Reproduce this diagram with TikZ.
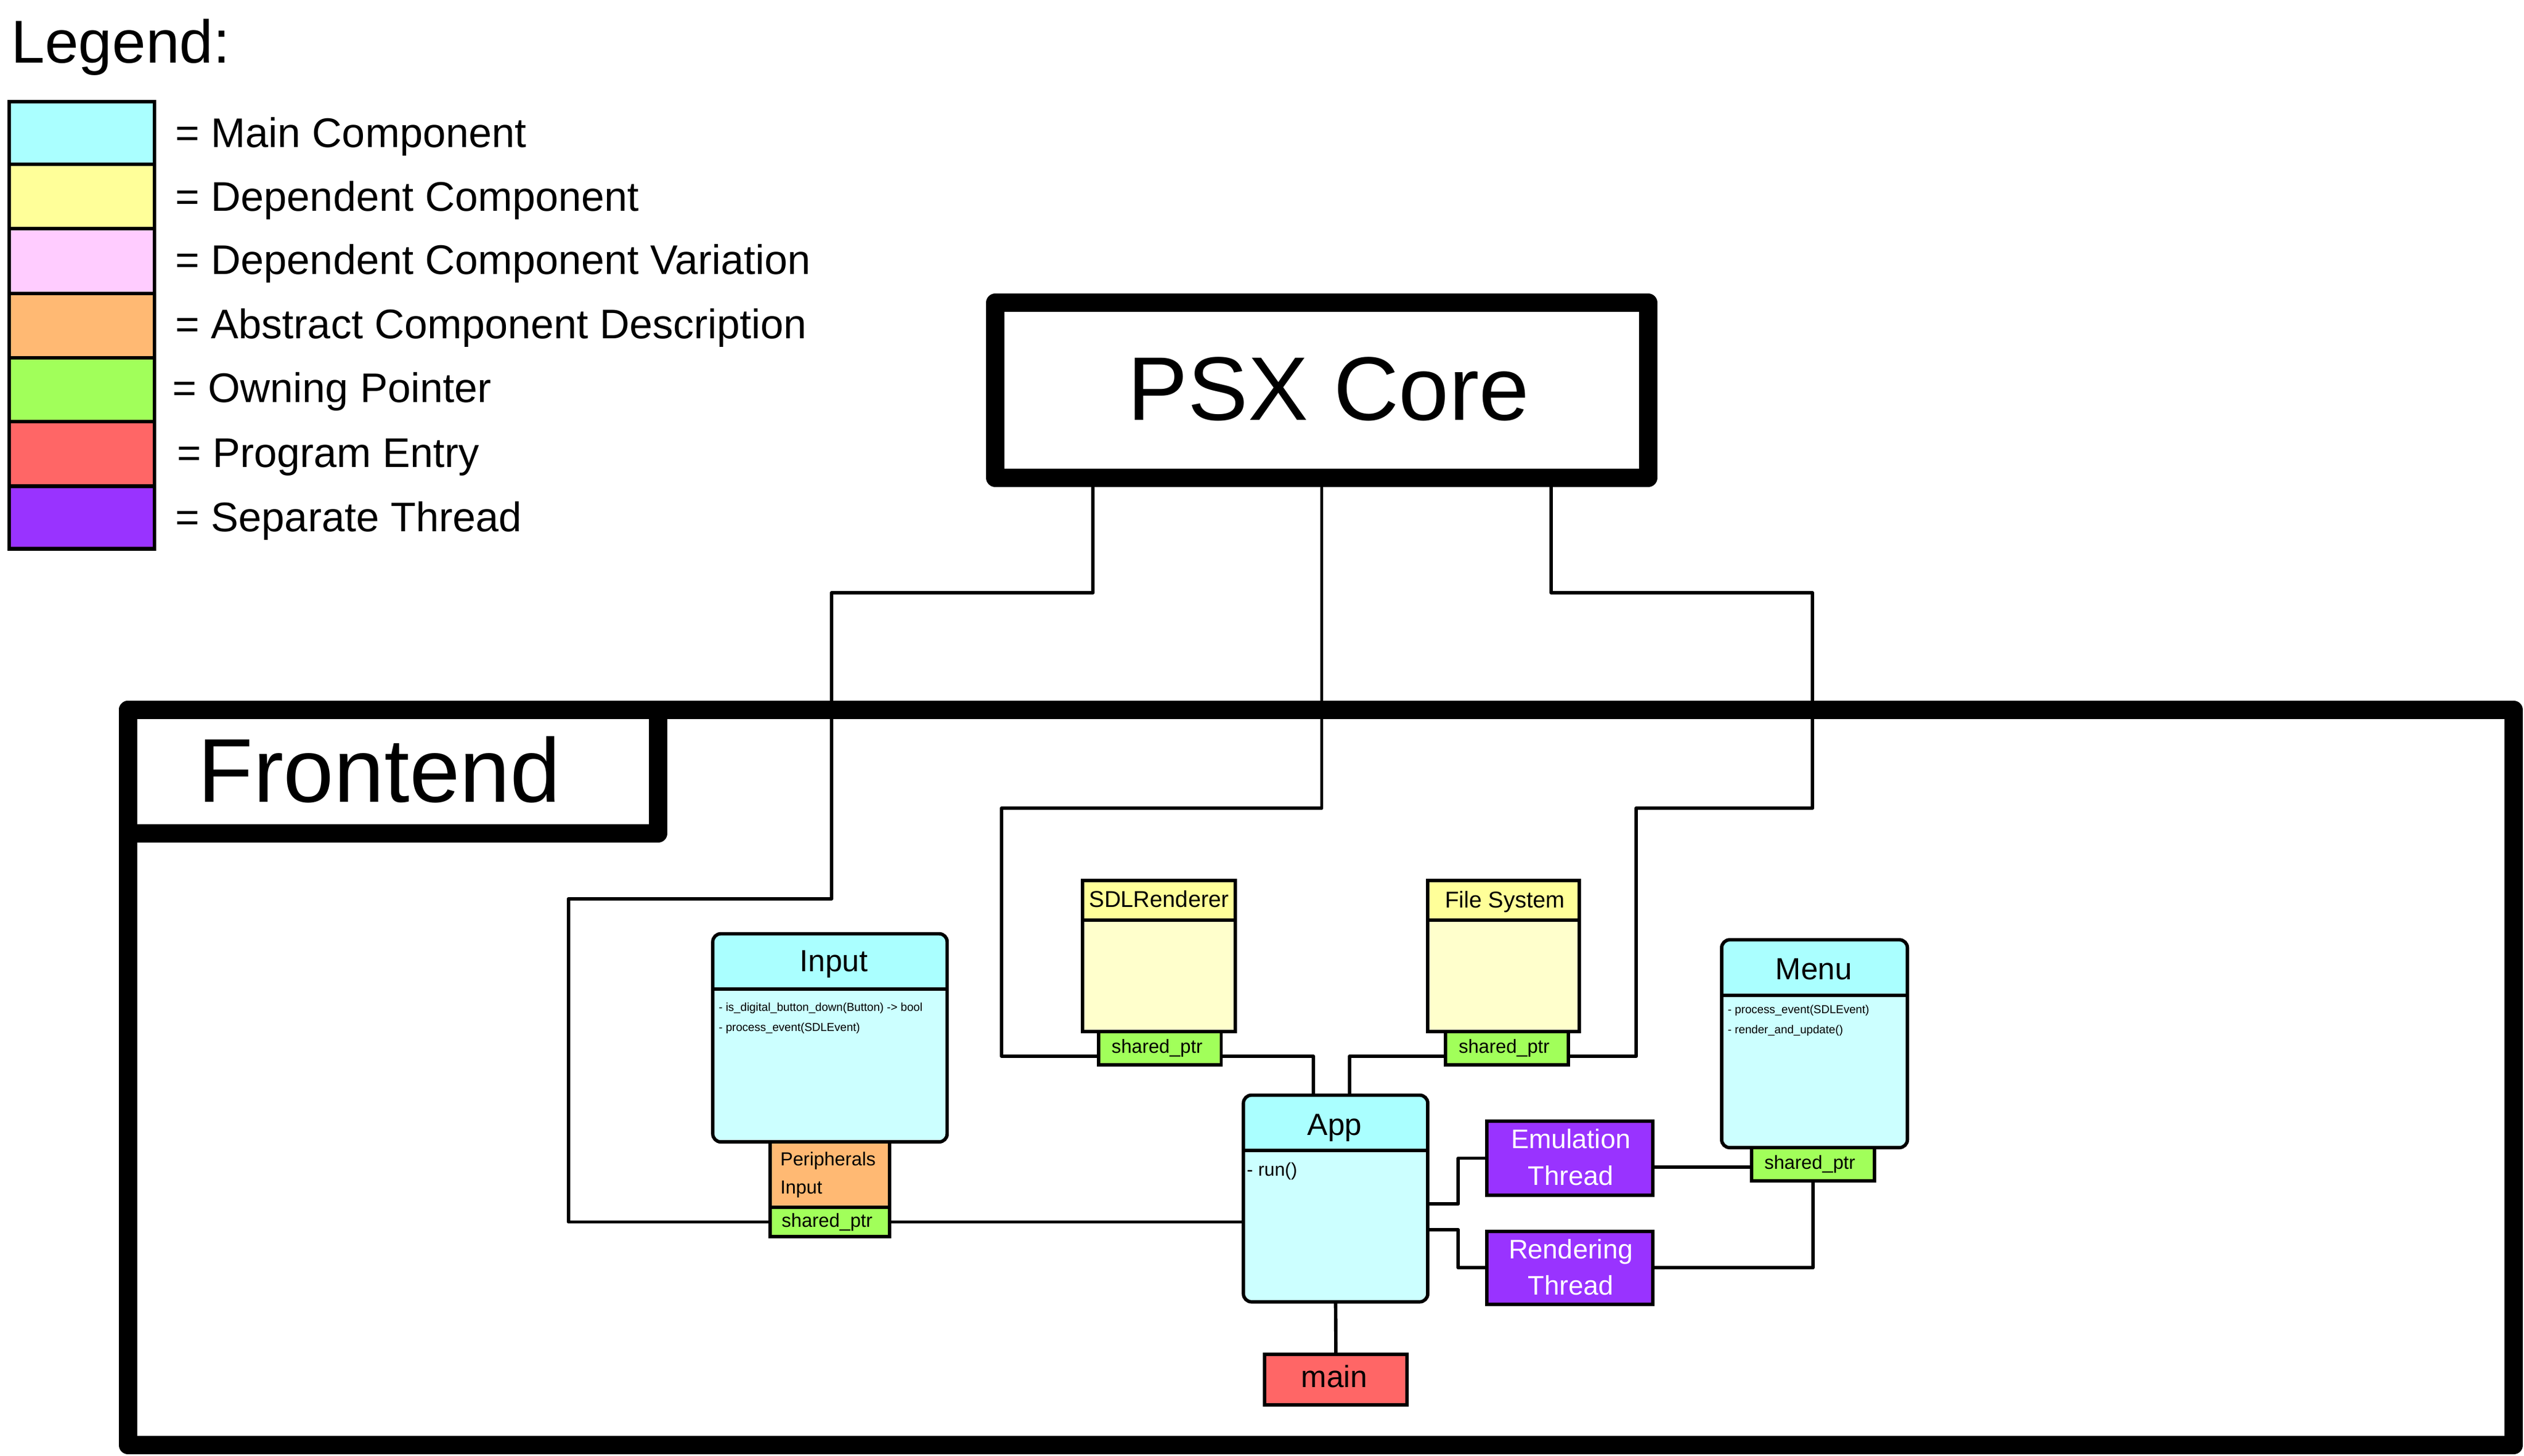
\documentclass[tikz,border=0pt]{standalone}
\usepackage{fontspec}
\setmainfont{Liberation Sans}
\usetikzlibrary{calc}
\definecolor{cyanhead}{HTML}{AAFFFF}
\definecolor{cyanbody}{HTML}{CCFFFF}
\definecolor{yellowhead}{HTML}{FFFF99}
\definecolor{yellowbody}{HTML}{FFFFCC}
\definecolor{pinkc}{HTML}{FFCCFF}
\definecolor{orangec}{HTML}{FFB973}
\definecolor{greenc}{HTML}{A1FF5A}
\definecolor{redc}{HTML}{FF6666}
\definecolor{purplec}{HTML}{9933FF}
\newcommand\myfs[1]{\fontsize{#1}{#1}\selectfont}
\begin{document}
\begin{tikzpicture}[x=1pt,y=-1pt,
  conn/.style={line width=2.1pt, line join=round},
  bigbox/.style={draw, fill=white, line width=11.4pt, line join=round, inner sep=0pt, outer sep=0pt},
  swatch/.style={draw, line width=2.2pt, inner sep=0pt, outer sep=0pt, minimum width=90.2pt},
  pbox/.style={draw, line width=2.1pt, inner sep=0pt, outer sep=0pt},
  cbox/.style={draw, line width=2.1pt, rounded corners=5pt, fill=cyanbody, inner sep=0pt, outer sep=0pt,
    path picture={
      \fill[cyanhead, sharp corners] (path picture bounding box.north west) rectangle ([yshift=-34.5pt]path picture bounding box.north east);
      \draw[line width=2.1pt, sharp corners] ([yshift=-34.5pt]path picture bounding box.north west) -- ([yshift=-34.5pt]path picture bounding box.north east);
    }},
  ybox/.style={draw, line width=2.1pt, fill=yellowbody, inner sep=0pt, outer sep=0pt,
    path picture={
      \fill[yellowhead] (path picture bounding box.north west) rectangle ([yshift=-24.65pt]path picture bounding box.north east);
      \draw[line width=2.1pt] ([yshift=-24.65pt]path picture bounding box.north west) -- ([yshift=-24.65pt]path picture bounding box.north east);
    }},
  txt/.style={inner sep=0pt, outer sep=0pt},
]
\useasboundingbox (0,0) rectangle (1568,904.4);
\fill[white] (0,0) rectangle (1568,904.4);

% ---------- Legend ----------
\node[txt, anchor=base west] (legendtitle) at (7.0,38.9) {\myfs{37.6}Legend:};
\node[swatch, fill=cyanhead,   minimum height=38.9pt] (sw1) at (50.8,82.55) {};
\node[swatch, fill=yellowhead, minimum height=40pt]   (sw2) at (50.8,122) {};
\node[swatch, fill=pinkc,      minimum height=40.2pt] (sw3) at (50.8,162.1) {};
\node[swatch, fill=orangec,    minimum height=40.1pt] (sw4) at (50.8,202.25) {};
\node[swatch, fill=greenc,     minimum height=39.7pt] (sw5) at (50.8,242.15) {};
\node[swatch, fill=redc,       minimum height=40pt]   (sw6) at (50.8,282) {};
\node[swatch, fill=purplec,    minimum height=38.9pt] (sw7) at (50.8,321.45) {};
\node[txt, anchor=base west] (lg1) at (109.1,91.4)  {\myfs{25.7}= Main Component};
\node[txt, anchor=base west] (lg2) at (109.1,131.2) {\myfs{25.7}= Dependent Component};
\node[txt, anchor=base west] (lg3) at (109.1,170.4) {\myfs{25.7}= Dependent Component Variation};
\node[txt, anchor=base west] (lg4) at (109.1,210.2) {\myfs{25.7}= Abstract Component Description};
\node[txt, anchor=base west] (lg5) at (107.3,250.0) {\myfs{25.7}= Owning Pointer};
\node[txt, anchor=base west] (lg6) at (110.1,290.2) {\myfs{25.7}= Program Entry};
\node[txt, anchor=base west] (lg7) at (109.1,330.2) {\myfs{25.7}= Separate Thread};

% ---------- Frames ----------
\node[bigbox, minimum width=1482pt, minimum height=456.7pt] (frontend) at (820.6,669.35) {};
\node[bigbox, minimum width=329.3pt, minimum height=76.7pt] (frontendlabel) at (244.25,479.35) {};
\node[txt, anchor=base] (frontendtext) at (235.7,498.4) {\myfs{56.3}Frontend};

\node[bigbox, minimum width=405.6pt, minimum height=108.8pt] (psx) at (821.1,242.4) {};
\node[txt, anchor=base] (psxtext) at (825.4,260.8) {\myfs{56.1}PSX Core};

% ---------- Component boxes ----------
\node[cbox, minimum width=145.6pt, minimum height=129.3pt] (input) at (515.6,644.65) {};
\node[cbox, minimum width=115.4pt, minimum height=129.1pt] (menu) at (1127.25,648.3) {};
\node[cbox, minimum width=114.5pt, minimum height=128.4pt] (app) at (829.7,744.45) {};
\node[ybox, minimum width=94.8pt, minimum height=93.9pt] (sdl) at (719.85,593.8) {};
\node[ybox, minimum width=94.1pt, minimum height=93.9pt] (fs) at (934.1,593.8) {};
\node[pbox, fill=greenc, minimum width=76.3pt, minimum height=20.6pt] (sdlptr) at (720.5,651.05) {};
\node[pbox, fill=greenc, minimum width=76.3pt, minimum height=20.6pt] (fsptr) at (936.2,651.05) {};
\node[pbox, fill=orangec, minimum width=74.3pt, minimum height=40.7pt] (periph) at (515.6,729.65) {};
\node[pbox, fill=greenc, minimum width=74.3pt, minimum height=18pt] (inptr) at (515.6,759) {};
\node[pbox, fill=greenc, minimum width=76.4pt, minimum height=20.7pt] (menuptr) at (1126.25,723.2) {};
\node[pbox, fill=purplec, minimum width=103pt, minimum height=46.1pt] (emu) at (975.15,719.4) {};
\node[pbox, fill=purplec, minimum width=103pt, minimum height=45.5pt] (rend) at (975.15,787.5) {};
\node[pbox, fill=redc, minimum width=88.3pt, minimum height=31.4pt] (main) at (829.9,856.95) {};

% ---------- Connectors ----------
\coordinate (pL) at (679,0);
\coordinate (pR) at (963.6,0);
\coordinate (cA) at (516.6,368.2);
\coordinate (cB) at (353.2,558.2);
\coordinate (cC) at (622.3,502);
\coordinate (cD) at (1126,368.2);
\coordinate (cE) at (1016.5,502);
\coordinate (xa) at (815.8,0);
\coordinate (xb) at (838.4,0);
\coordinate (xc) at (905.9,0);
\coordinate (ye) at (0,725);
\draw[conn] (psx.south -| pL) |- (cA) |- (cB) |- (inptr.west);
\draw[conn] (psx.south) |- (cC) |- ([yshift=-5pt]sdlptr.west);
\draw[conn] (psx.south -| pR) |- (cD) |- (cE) |- ([yshift=-5pt]fsptr.east);
\draw[conn] ([yshift=-5pt]sdlptr.east) -| (app.north -| xa);
\draw[conn] ([yshift=-5pt]fsptr.west) -| (app.north -| xb);
\draw[conn] (inptr.east) -- (app.west |- inptr.east);
\draw[conn] ([yshift=-3.35pt]app.east) -| (xc |- emu.west) -- (emu.west);
\draw[conn] ([yshift=-19.45pt]app.east) -| (xc |- rend.west) -- (rend.west);
\draw[conn] (emu.east |- ye) -- (menuptr.west |- ye);
\draw[conn] (rend.east) -| (menuptr.south);
\draw[conn] (app.south) -- (main.north);

% ---------- Texts ----------
\node[txt, anchor=base] (inputtitle) at (518,603.6) {\myfs{19}Input};
\node[txt, anchor=base west] (inputm1) at (446.5,628) {\myfs{7.15}- is\_digital\_button\_down(Button) -> bool};
\node[txt, anchor=base west] (inputm2) at (446.5,640.4) {\myfs{7.15}- process\_event(SDLEvent)};
\node[txt, anchor=base] (menutitle) at (1126.8,608.3) {\myfs{19}Menu};
\node[txt, anchor=base west] (menum1) at (1073.4,629.4) {\myfs{7.15}- process\_event(SDLEvent)};
\node[txt, anchor=base west] (menum2) at (1073.4,641.9) {\myfs{7.15}- render\_and\_update()};
\node[txt, anchor=base] (apptitle) at (829.1,705.3) {\myfs{19}App};
\node[txt, anchor=base west] (appm1) at (774.6,730.3) {\myfs{11.5}- run()};
\node[txt, anchor=base] (sdltitle) at (720,563.5) {\myfs{14.2}SDLRenderer};
\node[txt, anchor=base] (fstitle) at (934.9,564) {\myfs{14.2}File System};
\node[txt, anchor=base] (sdlptrtext) at (718.8,654) {\myfs{11.8}shared\_ptr};
\node[txt, anchor=base] (fsptrtext) at (934.4,654.3) {\myfs{11.8}shared\_ptr};
\node[txt, anchor=base] (menuptrtext) at (1124.3,726.3) {\myfs{11.8}shared\_ptr};
\node[txt, anchor=base] (inptrtext) at (513.8,762.3) {\myfs{11.8}shared\_ptr};
\node[txt, anchor=base west] (periph1) at (484.8,724) {\myfs{11.7}Peripherals};
\node[txt, anchor=base west] (periph2) at (484.8,741.6) {\myfs{11.7}Input};
\node[txt, anchor=base, text=white] (emu1) at (975.8,713.5) {\myfs{16.7}Emulation};
\node[txt, anchor=base, text=white] (emu2) at (975.8,736.2) {\myfs{16.7}Thread};
\node[txt, anchor=base, text=white] (rend1) at (975.8,781.7) {\myfs{16.7}Rendering};
\node[txt, anchor=base, text=white] (rend2) at (975.8,804.3) {\myfs{16.7}Thread};
\node[txt, anchor=base] (maintext) at (828.9,861.9) {\myfs{19}main};
\end{tikzpicture}
\end{document}
